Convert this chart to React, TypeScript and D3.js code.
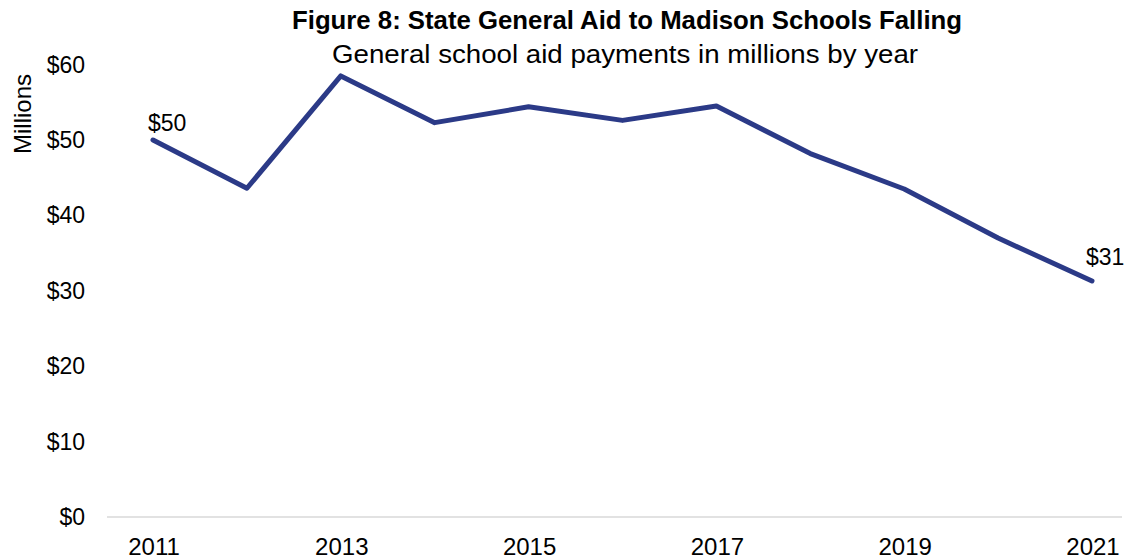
import React from "react";
import * as d3 from "d3";

const years: number[] = [2011, 2012, 2013, 2014, 2015, 2016, 2017, 2018, 2019, 2020, 2021];
const aid: number[] = [50.0, 43.6, 58.5, 52.3, 54.4, 52.6, 54.5, 48.2, 43.5, 37.0, 31.3];
const yTicks: number[] = [0, 10, 20, 30, 40, 50, 60];
const xTickYears: number[] = [2011, 2013, 2015, 2017, 2019, 2021];
const title = "Figure 8: State General Aid to Madison Schools Falling";
const subtitle = "General school aid payments in millions by year";
const yLabel = "Millions";

const W = 1126;
const H = 559;
const FONT = "'Liberation Sans', Arial, sans-serif";

export default function App() {
  const x = d3.scaleLinear().domain([2011, 2021]).range([153, 1092]);
  const y = d3.scaleLinear().domain([0, 60]).range([517, 64.6]);
  const line = d3
    .line<number>()
    .x((_, i) => x(years[i]))
    .y((d) => y(d));

  const first = aid[0];
  const last = aid[aid.length - 1];

  return (
    <svg
      width={W}
      height={H}
      style={{ position: "absolute", left: 0, top: 0, background: "#fff" }}
      fontFamily={FONT}
    >
      <text x={627} y={29} textAnchor="middle" fontSize={25} fontWeight="bold" fill="#000"
        textLength={670} lengthAdjust="spacingAndGlyphs">
        {title}
      </text>
      <text x={625} y={63} textAnchor="middle" fontSize={26} fill="#000"
        textLength={586} lengthAdjust="spacingAndGlyphs">
        {subtitle}
      </text>
      <text transform={`translate(31,114) rotate(-90)`} textAnchor="middle" fontSize={24} fill="#000">
        {yLabel}
      </text>
      {yTicks.map((t) => (
        <text key={t} x={85} y={y(t) + 8} textAnchor="end" fontSize={23} fill="#000">
          {d3.format("$,.0f")(t)}
        </text>
      ))}
      <line x1={107} x2={1122} y1={y(0)} y2={y(0)} stroke="#d9d9d9" strokeWidth={1.5} />
      {xTickYears.map((yr) => (
        <text key={yr} x={x(yr) + 1} y={555} textAnchor="middle" fontSize={24} fill="#000">
          {yr}
        </text>
      ))}
      <path d={line(aid) ?? ""} fill="none" stroke="#2b3a87" strokeWidth={5}
        strokeLinejoin="round" strokeLinecap="round" />
      <text x={x(years[0]) - 5} y={y(first) - 9} fontSize={23} fill="#000">
        {d3.format("$.0f")(first)}
      </text>
      <text x={x(years[years.length - 1]) - 6} y={y(last) - 16} fontSize={23} fill="#000">
        {d3.format("$.0f")(last)}
      </text>
    </svg>
  );
}
